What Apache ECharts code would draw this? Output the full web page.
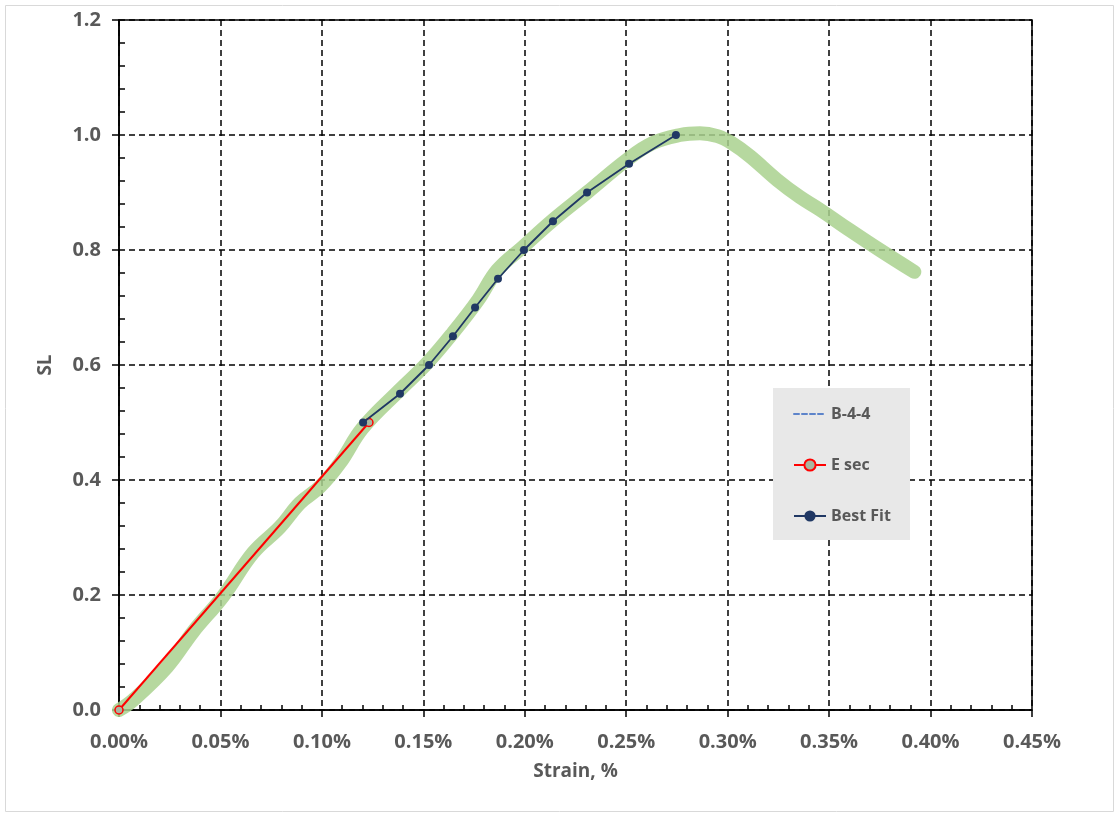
<!DOCTYPE html>
<html>
<head>
<meta charset="utf-8">
<script src="https://cdn.jsdelivr.net/npm/echarts@6/dist/echarts.min.js"></script>
<style>
  html, body { margin: 0; padding: 0; background: #ffffff; }
  #chart { width: 1119px; height: 816px; }
</style>
</head>
<body>
<div id="chart"></div>
<script>
// Strain (%) vs stress level (SL) for specimen B-4-4
const traceStrain = [0, 0.0069, 0.0237, 0.0365, 0.0513, 0.066, 0.0793, 0.0892, 0.099, 0.109, 0.12, 0.1385, 0.1518, 0.1646, 0.177, 0.1865, 0.199, 0.2139, 0.2307, 0.2504, 0.263, 0.2765, 0.2863, 0.295, 0.302, 0.311, 0.3243, 0.3356, 0.3455, 0.36, 0.375, 0.392];
const traceSL     = [0, 0.017, 0.075, 0.136, 0.198, 0.273, 0.318, 0.36, 0.388, 0.43, 0.49, 0.557, 0.603, 0.656, 0.713, 0.765, 0.805, 0.852, 0.90, 0.957, 0.986, 1.0, 1.003, 0.998, 0.986, 0.963, 0.922, 0.892, 0.87, 0.835, 0.80, 0.762];

// Secant modulus line
const secStrain = [0, 0.1232];
const secSL     = [0, 0.5];

// Best fit points
const fitStrain = [0.1203, 0.1385, 0.1528, 0.1646, 0.1755, 0.1868, 0.1996, 0.2139, 0.2307, 0.2514, 0.2745];
const fitSL     = [0.50, 0.55, 0.60, 0.65, 0.70, 0.75, 0.80, 0.85, 0.90, 0.95, 1.00];

const seriesNames = ['B-4-4', 'E sec', 'Best Fit'];

const pairs = (xs, ys) => xs.map((x, i) => [x, ys[i]]);

const labelColor = '#595959';
const fontFamily = '"Open Sans", "Noto Sans", sans-serif';

const chart = echarts.init(document.getElementById('chart'));

const xBase = { type: 'value', min: 0, max: 0.45, interval: 0.05, gridIndex: 0 };
const yBase = { type: 'value', min: 0, max: 1.2, interval: 0.2, gridIndex: 0 };

chart.setOption({
  animation: false,
  backgroundColor: '#ffffff',
  graphic: [
    { type: 'rect', z: -10, shape: { x: 5.5, y: 5.5, width: 1108, height: 806 },
      style: { fill: '#ffffff', stroke: '#d9d9d9', lineWidth: 1 } },
    { type: 'rect', z: 3, shape: { x: 773, y: 388, width: 137, height: 152 },
      style: { fill: '#e8e8e8', stroke: null } }
  ],
  grid: {
    left: 119, top: 20, right: 87, bottom: 106,
    show: true, borderColor: '#000', borderWidth: 1.5, backgroundColor: 'transparent'
  },
  legend: {
    z: 6,
    orient: 'vertical',
    left: 793, top: 406,
    padding: 0,
    itemGap: 35,
    itemWidth: 32, itemHeight: 14,
    textStyle: { color: labelColor, fontSize: 16, fontWeight: 'bold', fontFamily: fontFamily },
    data: [
      { name: seriesNames[0], itemStyle: { opacity: 0 },
        lineStyle: { color: '#4472c4', type: [5, 3], width: 2 } },
      { name: seriesNames[1] },
      { name: seriesNames[2] }
    ]
  },
  xAxis: [
    Object.assign({}, xBase, {
      name: 'Strain, %', nameLocation: 'middle', nameGap: 52,
      nameTextStyle: { color: labelColor, fontSize: 19, fontWeight: 'bold', fontFamily: fontFamily },
      axisLine: { show: true, onZero: false, lineStyle: { color: '#000', width: 1.5 } },
      axisTick: { show: true, length: 7, lineStyle: { color: '#000', width: 1.5 } },
      axisLabel: { color: labelColor, fontSize: 20, fontWeight: 'bold', fontFamily: fontFamily, margin: 22,
                   formatter: v => v.toFixed(2) + '%' },
      splitLine: { show: true, lineStyle: { color: '#000', type: [6, 4], width: 1.5 } }
    }),
    Object.assign({}, xBase, {
      position: 'bottom',
      axisLine: { show: false },
      axisTick: { show: false, inside: true },
      minorTick: { show: true, splitNumber: 5, length: 5, lineStyle: { color: '#000', width: 1.5 } },
      axisLabel: { show: false },
      splitLine: { show: false }
    })
  ],
  yAxis: [
    Object.assign({}, yBase, {
      name: 'SL', nameLocation: 'middle', nameGap: 64,
      nameTextStyle: { color: labelColor, fontSize: 19, fontWeight: 'bold', fontFamily: fontFamily },
      axisLine: { show: true, onZero: false, lineStyle: { color: '#000', width: 1.5 } },
      axisTick: { show: true, length: 7, lineStyle: { color: '#000', width: 1.5 } },
      axisLabel: { color: labelColor, fontSize: 20, fontWeight: 'bold', fontFamily: fontFamily, margin: 18,
                   formatter: v => v.toFixed(1) },
      splitLine: { show: true, lineStyle: { color: '#000', type: [6, 4], width: 1.5 } }
    }),
    Object.assign({}, yBase, {
      position: 'left',
      axisLine: { show: false },
      axisTick: { show: false, inside: true },
      minorTick: { show: true, splitNumber: 5, length: 6, lineStyle: { color: '#000', width: 1.5 } },
      axisLabel: { show: false },
      splitLine: { show: false }
    })
  ],
  series: [
    {
      name: seriesNames[0], type: 'line', z: 2,
      xAxisIndex: 0, yAxisIndex: 0,
      data: pairs(traceStrain, traceSL),
      smooth: 0.4, showSymbol: false, symbol: 'none',
      lineStyle: { color: '#a9d18e', width: 14, opacity: 0.85, cap: 'round', join: 'round' }
    },
    {
      name: seriesNames[1], type: 'line', z: 4,
      xAxisIndex: 0, yAxisIndex: 0,
      data: pairs(secStrain, secSL),
      symbol: 'circle', symbolSize: 8,
      lineStyle: { color: '#ff0000', width: 2 },
      itemStyle: { color: '#a9b59e', borderColor: '#ff0000', borderWidth: 1.5 }
    },
    {
      name: seriesNames[2], type: 'line', z: 5,
      xAxisIndex: 0, yAxisIndex: 0,
      data: pairs(fitStrain, fitSL),
      symbol: 'circle', symbolSize: 8,
      lineStyle: { color: '#203864', width: 1.8 },
      itemStyle: { color: '#203864' }
    }
  ]
});
</script>
</body>
</html>
